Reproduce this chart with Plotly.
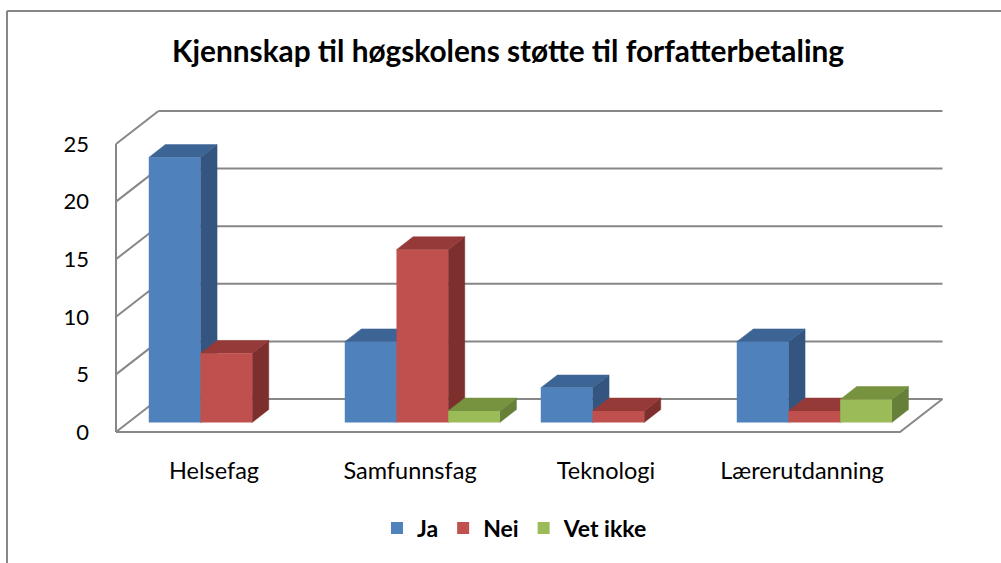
import plotly.graph_objects as go

# ---------------- data ----------------
categories = ["Helsefag", "Samfunnsfag", "Teknologi", "Lærerutdanning"]
series_names = ["Ja", "Nei", "Vet ikke"]
ja = [23, 7, 3, 7]
nei = [6, 15, 1, 1]
vet_ikke = [0, 1, 0, 2]
y_ticks = [0, 5, 10, 15, 20, 25]
title_text = "Kjennskap til høgskolens støtte til forfatterbetaling"

series_values = [ja, nei, vet_ikke]

# ---------------- style ----------------
front_colors = ["#4F81BD", "#C0504D", "#9BBB59"]
top_colors = ["#3C6595", "#953A38", "#779340"]
side_colors = ["#33557F", "#7D2F2D", "#66803A"]
GRID = "#878787"
FONT = "Lato"

W, H = 1001, 563
X0PX, XPITCH = 214.0, 196.0   # px of first category centre (front plane), px per category
Y0PX, YSCALE = 432.0, 11.52   # px of value 0 (front plane), px per unit
L, R, T, B = 100, 960, 95, 445  # plot area in px

xr = [(L - X0PX) / XPITCH, (R - X0PX) / XPITCH]
yr = [(Y0PX - B) / YSCALE, (Y0PX - T) / YSCALE]

DX = 42.5 / XPITCH    # back-plane offset in x units
DY = 33.0 / YSCALE    # back-plane offset in value units
F0, F1 = 0.29, 0.68   # bar front / back depth fractions
BW = 51.7 / XPITCH    # bar width in x units
n = len(categories)
xmin, xmax = -0.5, n - 0.5
vmax = y_ticks[-1]


def px_to_paper_x(px):
    return (px - L) / (R - L)


def py_to_paper_y(py):
    return (B - py) / (B - T)


fig = go.Figure()

# ---------- walls / floor / gridlines ----------
wx, wy = [], []
for v in y_ticks:  # left wall diagonals
    wx += [xmin, xmin + DX, None]
    wy += [v, v + DY, None]
wx += [xmin, xmin, None]  # left front vertical
wy += [0, vmax, None]
for v in y_ticks:  # back wall gridlines
    wx += [xmin + DX, xmax + DX, None]
    wy += [v + DY, v + DY, None]
wx += [xmin, xmax, xmax + DX]  # floor front + right edge
wy += [0, 0, DY]
fig.add_trace(go.Scatter(x=wx, y=wy, mode="lines", line=dict(color=GRID, width=2),
                         hoverinfo="skip", showlegend=False))

# ---------- bar side and top faces ----------
ddx = DX * (F1 - F0)
ddy = DY * (F1 - F0)
base = DY * F0
for i in range(n):
    for k, vals in enumerate(series_values):
        v = vals[i]
        if v <= 0:
            continue
        xl = i + DX * F0 + (k - 1.5) * BW
        xrr = xl + BW
        top = base + v
        fig.add_trace(go.Scatter(
            x=[xrr, xrr + ddx, xrr + ddx, xrr, xrr],
            y=[base, base + ddy, top + ddy, top, base],
            fill="toself", fillcolor=side_colors[k], mode="lines",
            line=dict(color=side_colors[k], width=0.5),
            hoverinfo="skip", showlegend=False))
        fig.add_trace(go.Scatter(
            x=[xl, xrr, xrr + ddx, xl + ddx, xl],
            y=[top, top, top + ddy, top + ddy, top],
            fill="toself", fillcolor=top_colors[k], mode="lines",
            line=dict(color=top_colors[k], width=0.5),
            hoverinfo="skip", showlegend=False))

# ---------- bar front faces (overlay axes so they sit on top) ----------
for k, vals in enumerate(series_values):
    xs = [i + DX * F0 + (k - 1.5) * BW + BW / 2 for i in range(n)]
    fig.add_trace(go.Bar(
        x=xs, y=vals, base=[base] * n, width=[BW] * n, name=series_names[k],
        marker=dict(color=front_colors[k], line=dict(width=0)),
        xaxis="x2", yaxis="y2"))

frame = [
    dict(type="line", xref="paper", yref="paper",
         x0=px_to_paper_x(7), x1=px_to_paper_x(1010),
         y0=py_to_paper_y(11), y1=py_to_paper_y(11),
         line=dict(color=GRID, width=2)),
    dict(type="line", xref="paper", yref="paper",
         x0=px_to_paper_x(7), x1=px_to_paper_x(7),
         y0=py_to_paper_y(11), y1=py_to_paper_y(570),
         line=dict(color=GRID, width=2)),
]

fig.update_layout(
    width=W, height=H,
    margin=dict(l=L, r=W - R, t=T, b=H - B, pad=0),
    paper_bgcolor="white", plot_bgcolor="rgba(0,0,0,0)",
    barmode="overlay",
    font=dict(family=FONT, size=20, color="#000000"),
    title=dict(text="<b>" + title_text + "</b>", x=508 / W, xanchor="center",
               y=1 - 52 / H, yanchor="middle",
               font=dict(family=FONT, size=29.8, color="#000000")),
    xaxis=dict(range=xr, tickmode="array", tickvals=list(range(n)), ticktext=categories,
               showgrid=False, zeroline=False, showline=False, ticks="",
               ticklabelstandoff=9, tickfont=dict(size=23.5), fixedrange=True),
    yaxis=dict(range=yr, tickmode="array", tickvals=y_ticks,
               ticktext=[str(t) for t in y_ticks],
               showgrid=False, zeroline=False, showline=False, ticks="",
               ticklabelstandoff=10, tickfont=dict(size=22), fixedrange=True),
    xaxis2=dict(range=xr, overlaying="x", visible=False, fixedrange=True),
    yaxis2=dict(range=yr, overlaying="y", visible=False, fixedrange=True),
    legend=dict(orientation="h", x=px_to_paper_x(515), xanchor="center",
                y=py_to_paper_y(528), yanchor="middle",
                font=dict(family=FONT, size=23, color="#000000", weight="bold"),
                bgcolor="rgba(0,0,0,0)", itemclick=False, itemdoubleclick=False),
    shapes=frame,
    showlegend=True,
)

fig.write_html("out.html", config={"displayModeBar": False},
               post_script="document.body.style.margin='0';")
